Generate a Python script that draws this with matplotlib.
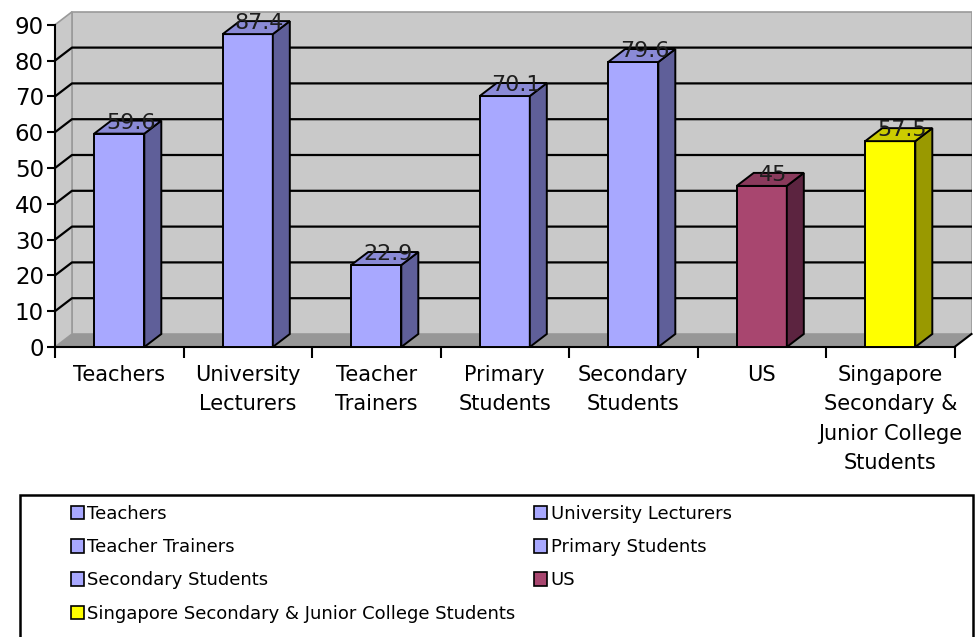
import matplotlib
matplotlib.use("Agg")
import matplotlib.pyplot as plt
from matplotlib.patches import Polygon, Patch, Rectangle

# survey groups and their scores
groups = ["Teachers", "University Lecturers", "Teacher Trainers", "Primary Students",
          "Secondary Students", "US", "Singapore Secondary & Junior College Students"]
tick_names = ["Teachers", "University\nLecturers", "Teacher\nTrainers", "Primary\nStudents",
              "Secondary\nStudents", "US", "Singapore\nSecondary &\nJunior College\nStudents"]
scores = [59.6, 87.4, 22.9, 70.1, 79.6, 45, 57.5]
value_text = ["59.6", "87.4", "22.9", "70.1", "79.6", "45", "57.5"]

# front / side / top shades for each bar
front = ["#a8a8ff"] * 5 + ["#a8466f", "#ffff00"]
side = ["#5f5f99"] * 5 + ["#5c2440", "#999900"]
top = ["#8a8ad6"] * 5 + ["#8a3a5c", "#cccc00"]

plt.rcParams["font.family"] = "DejaVu Sans"

W, H = 980, 637
fig = plt.figure(figsize=(W / 100, H / 100), dpi=100)

# axes placed in pixels: x=-0.5 sits at 55px, one category is 128.5px wide
cat_px = 128.5
val_px = 3.58
DX = 17 / cat_px          # depth offset in category units
DY = 13 / val_px          # depth offset in value units
ymax = 94
x0, y0 = 55, 347
ax = fig.add_axes([x0 / W, (H - y0) / H, (7 * cat_px + 17) / W, ymax * val_px / H])
ax.set_xlim(-0.5, 6.5 + DX)
ax.set_ylim(0, ymax)
ax.patch.set_visible(False)

wall = "#c9c9c9"
edge = "#9a9a9a"

# back wall, left wall and floor
ax.add_patch(Polygon([(-0.5 + DX, DY), (6.5 + DX, DY), (6.5 + DX, 90 + DY), (-0.5 + DX, 90 + DY)],
                     closed=True, fc=wall, ec=edge, lw=1.2, zorder=0))
ax.add_patch(Polygon([(-0.5, 0), (-0.5 + DX, DY), (-0.5 + DX, 90 + DY), (-0.5, 90)],
                     closed=True, fc=wall, ec=edge, lw=1.2, zorder=0))
ax.add_patch(Polygon([(-0.5, 0), (6.5, 0), (6.5 + DX, DY), (-0.5 + DX, DY)],
                     closed=True, fc="#979797", ec="none", zorder=0.5))
ax.plot([6.5, 6.5 + DX], [0, DY], color="black", lw=1.5, zorder=1, clip_on=False)

# gridlines on the walls
for v in range(10, 90, 10):
    ax.plot([-0.5, -0.5 + DX, 6.5 + DX], [v, v + DY, v + DY], color="black", lw=1.6, zorder=1)

# bars drawn as front face plus side and top faces
bw = 0.39
xs = list(range(len(scores)))
ax.bar(xs, scores, width=bw, color=front, edgecolor="black", linewidth=1.4, zorder=3)
for i, v in enumerate(scores):
    r = i + bw / 2
    l = i - bw / 2
    ax.add_patch(Polygon([(r, 0), (r + DX, DY), (r + DX, v + DY), (r, v)],
                         closed=True, fc=side[i], ec="black", lw=1.4, zorder=3))
    ax.add_patch(Polygon([(l, v), (r, v), (r + DX, v + DY), (l + DX, v + DY)],
                         closed=True, fc=top[i], ec="black", lw=1.4, zorder=3))
    ax.text(i + 0.09, v + 1.3, value_text[i], ha="center", va="baseline",
            fontsize=16, color="#1e1e1e", zorder=4)

# axes, ticks and labels
for s in ["top", "right"]:
    ax.spines[s].set_visible(False)
ax.spines["left"].set_bounds(0, 90)
ax.spines["bottom"].set_bounds(-0.5, 6.5)
for s in ["left", "bottom"]:
    ax.spines[s].set_linewidth(1.5)
    ax.spines[s].set_zorder(2)

ax.set_yticks(range(0, 91, 10))
ax.tick_params(axis="y", length=6, width=1.5, labelsize=16.5, pad=2)
ax.set_xticks(xs)
ax.set_xticklabels(tick_names, fontsize=15, linespacing=1.58, va="top")
ax.set_xticks([i - 0.5 for i in range(8)], minor=True)
ax.tick_params(axis="x", which="major", length=0, pad=13)
ax.tick_params(axis="x", which="minor", length=8, width=1.5)

# legend box running off the bottom edge
fig.patches.append(Rectangle((20 / W, -0.05), (973 - 20) / W, 0.05 + (H - 495) / H,
                             transform=fig.transFigure, fc="white", ec="black", lw=1.8))
handles = [Patch(fc=front[i], ec="black", lw=1.2, label=groups[i]) for i in range(len(groups))]
order = [0, 2, 4, 6, 1, 3, 5]
fig.legend([handles[i] for i in order], [groups[i] for i in order],
           loc="upper left", bbox_to_anchor=(62 / W, (H - 496) / H), ncol=2,
           frameon=False, fontsize=13, handlelength=0.7, handleheight=0.75,
           handletextpad=0.2, labelspacing=0.84, columnspacing=1.05, borderpad=0)

fig.savefig("out.png", dpi=100)
